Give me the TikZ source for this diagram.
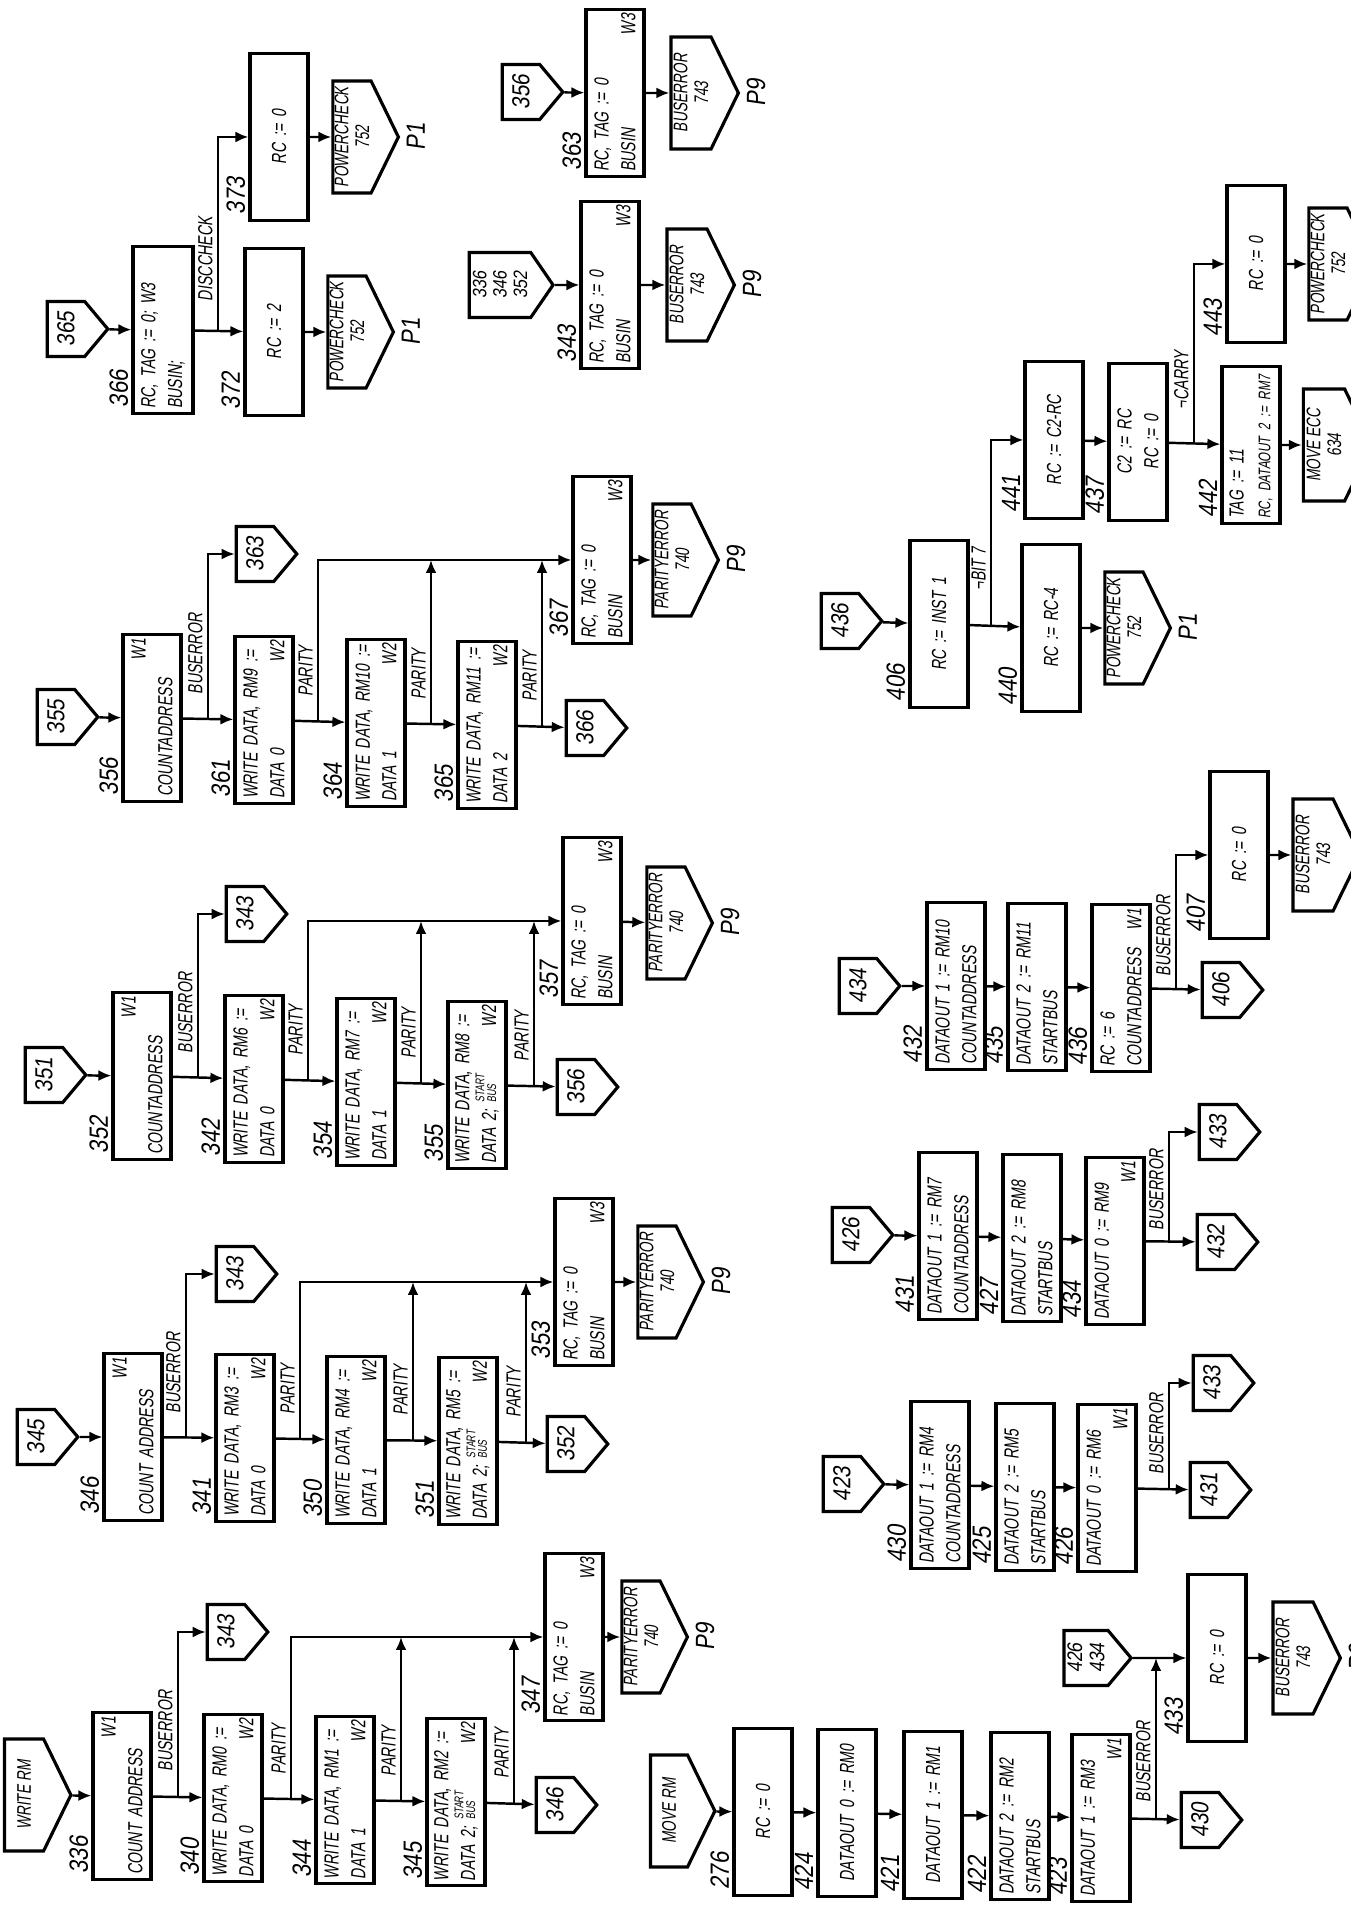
\documentclass[tikz,border=0pt]{standalone}
\usepackage{fontspec}
\newfontfamily\handfont{Liberation Sans}[FakeStretch=0.70,FakeSlant=0.14]
\newfontfamily\digitfont{Liberation Sans}[FakeStretch=0.85,FakeSlant=0.14]
\usetikzlibrary{arrows.meta,shapes.symbols}
\newcommand{\startbus}{{\fontsize{3.6}{3.8}\selectfont\renewcommand{\arraystretch}{0.7}\begin{tabular}[b]{@{}l@{}}START\\BUS\end{tabular}}}

\begin{document}
\begin{tikzpicture}[>={Latex[length=1.3mm,width=1.1mm]},line width=0.7pt,
  box/.style={draw,line width=0.9pt,minimum width=1.65cm,minimum height=0.58cm,
    text width=1.58cm,inner xsep=1.2pt,inner ysep=1pt,align=left,
    font=\handfont\fontsize{5.8}{7.6}\selectfont},
  cbox/.style={box,align=center},
  kbox/.style={box,minimum width=1.55cm,text width=1.48cm},
  conn/.style={signal,signal to=south,draw,line width=0.9pt,inner sep=1pt,
    minimum width=0.55cm,minimum height=0.55cm,signal pointer angle=100,
    align=center,font=\digitfont\fontsize{7}{7.4}\selectfont},
  wconn/.style={conn,minimum width=1.12cm,minimum height=0.6cm,inner sep=0.5pt,
    signal pointer angle=128,font=\handfont\fontsize{5.6}{5.9}\selectfont},
  refno/.style={anchor=south west,inner sep=0.6pt,xshift=0.4mm,
    font=\digitfont\fontsize{7.5}{8}\selectfont},
  lbl/.style={anchor=south,inner sep=1.2pt,font=\handfont\fontsize{5.8}{7}\selectfont},
  plbl/.style={anchor=north,inner sep=1.5pt,font=\digitfont\fontsize{7.5}{8}\selectfont}]
  \fill[white] (0,0) rectangle (13.5,19.07);
  \useasboundingbox (0,0) rectangle (13.5,19.07);
  \begin{scope}[rotate=90,transform shape]
  \node[wconn,minimum height=0.57cm] (cWR) at (1.12,-0.24) {WRITE RM};
  \node[box] (b336) at (1.11,-1.22) {\hspace*{\fill}W1\\COUNT ADDRESS};
  \node[box] (b340) at (1.09,-2.33) {WRITE DATA, RM0~:=\\DATA 0\hspace*{\fill}W2};
  \node[box] (b344) at (1.07,-3.45) {WRITE DATA, RM1~:=\\DATA 1\hspace*{\fill}W2};
  \node[box] (b345) at (1.05,-4.56) {WRITE DATA, RM2~:=\\DATA 2; \startbus\hspace*{\fill}W2};
  \node[conn] (c346) at (1.02,-5.55) {346};
  \node[conn] (c343a) at (2.75,-2.26) {343};
  \node[box] (b347) at (2.70,-5.74) {RC, TAG := 0\\BUSIN\hspace*{\fill}W3};
  \node[wconn] (c740a) at (2.70,-6.41) {PARITYERROR\\740};

  \node[conn] (c345) at (4.70,-0.36) {345};
  \node[box] (b346) at (4.70,-1.33) {\hspace*{\fill}W1\\COUNT ADDRESS};
  \node[box] (b341) at (4.69,-2.45) {WRITE DATA, RM3~:=\\DATA 0\hspace*{\fill}W2};
  \node[box] (b350) at (4.67,-3.56) {WRITE DATA, RM4~:=\\DATA 1\hspace*{\fill}W2};
  \node[box] (b351) at (4.66,-4.68) {WRITE DATA, RM5~:=\\DATA 2; \startbus\hspace*{\fill}W2};
  \node[conn] (c352) at (4.63,-5.66) {352};
  \node[conn] (c343b) at (6.33,-2.35) {343};
  \node[box] (b353) at (6.25,-5.84) {RC, TAG := 0\\BUSIN\hspace*{\fill}W3};
  \node[wconn] (c740b) at (6.25,-6.57) {PARITYERROR\\740};

  \node[conn] (c351) at (8.32,-0.44) {351};
  \node[box] (b352) at (8.31,-1.42) {\hspace*{\fill}W1\\COUNTADDRESS};
  \node[box] (b342) at (8.28,-2.54) {WRITE DATA, RM6~:=\\DATA 0\hspace*{\fill}W2};
  \node[box] (b354) at (8.25,-3.66) {WRITE DATA, RM7~:=\\DATA 1\hspace*{\fill}W2};
  \node[box] (b355) at (8.22,-4.77) {WRITE DATA, RM8~:=\\DATA 2; \startbus\hspace*{\fill}W2};
  \node[conn] (c356) at (8.20,-5.76) {356};
  \node[conn] (c343c) at (9.93,-2.45) {343};
  \node[box] (b357) at (9.86,-5.92) {RC, TAG := 0\\BUSIN\hspace*{\fill}W3};
  \node[wconn] (c740c) at (9.84,-6.66) {PARITYERROR\\740};

  \node[conn] (c355) at (11.90,-0.56) {355};
  \node[box] (b356) at (11.89,-1.52) {\hspace*{\fill}W1\\COUNTADDRESS};
  \node[box] (b361) at (11.87,-2.64) {WRITE DATA, RM9~:=\\DATA 0\hspace*{\fill}W2};
  \node[box] (b364) at (11.84,-3.76) {WRITE DATA, RM10~:=\\DATA 1\hspace*{\fill}W2};
  \node[box] (b365) at (11.82,-4.87) {WRITE DATA, RM11~:=\\DATA 2\hspace*{\fill}W2};
  \node[conn] (c366) at (11.79,-5.85) {366};
  \node[conn] (c363) at (13.53,-2.55) {363};
  \node[box] (b367) at (13.47,-6.02) {RC, TAG := 0\\BUSIN\hspace*{\fill}W3};
  \node[wconn] (c740d) at (13.47,-6.72) {PARITYERROR\\740};

  \node[conn] (c365) at (15.78,-0.66) {365};
  \node[box,minimum height=0.6cm] (b366) at (15.77,-1.63) {RC, TAG := 0; W3\\BUSIN;};
  \node[cbox] (b372) at (15.75,-2.74) {RC := 2};
  \node[cbox] (b373) at (17.70,-2.79) {RC := 0};
  \node[wconn] (c752a) at (15.75,-3.47) {POWERCHECK\\752};
  \node[wconn] (c752b) at (17.70,-3.52) {POWERCHECK\\752};

  \node[conn,minimum width=0.65cm,signal pointer angle=111,font=\digitfont\fontsize{5.5}{5.8}\selectfont] (c336m) at (16.22,-5.00) {336\\346\\352};
  \node[box] (b343) at (16.22,-6.10) {RC, TAG := 0\\BUSIN\hspace*{\fill}W3};
  \node[wconn] (c743a) at (16.22,-6.87) {BUSERROR\\743};
  \node[conn] (c356m) at (18.15,-5.21) {356};
  \node[box] (b363) at (18.14,-6.15) {RC, TAG := 0\\BUSIN\hspace*{\fill}W3};
  \node[wconn] (c743b) at (18.14,-6.91) {BUSERROR\\743};

  \node[wconn,minimum height=0.54cm] (cMR) at (0.96,-6.69) {MOVE RM};
  \node[cbox] (b276) at (0.95,-7.63) {RC := 0};
  \node[cbox] (b424) at (0.94,-8.47) {DATAOUT 0 := RM0};
  \node[cbox] (b421) at (0.92,-9.33) {DATAOUT 1 := RM1};
  \node[box] (b422) at (0.91,-10.20) {DATAOUT 2 := RM2\\STARTBUS};
  \node[box] (b423) at (0.89,-11.01) {DATAOUT 1 := RM3\\\hspace*{\fill}W1};
  \node[conn] (c430) at (0.87,-12.00) {430};
  \node[conn,font=\digitfont\fontsize{6}{6.3}\selectfont] (c426m) at (2.49,-10.86) {426\\434};
  \node[cbox] (b433) at (2.49,-12.17) {RC := 0};
  \node[wconn] (c743c) at (2.49,-12.93) {BUSERROR\\743};

  \node[conn] (c423) at (4.23,-8.42) {423};
  \node[box] (b430) at (4.22,-9.40) {DATAOUT 1 := RM4\\COUNTADDRESS};
  \node[box] (b425) at (4.20,-10.25) {DATAOUT 2 := RM5\\STARTBUS};
  \node[box] (b426) at (4.19,-11.07) {DATAOUT 0 := RM6\\\hspace*{\fill}W1};
  \node[conn] (c431) at (4.17,-12.09) {431};
  \node[conn] (c433a) at (5.24,-12.12) {433};

  \node[conn] (c426) at (6.72,-8.51) {426};
  \node[box] (b431) at (6.71,-9.48) {DATAOUT 1 := RM7\\COUNTADDRESS};
  \node[box] (b427) at (6.69,-10.32) {DATAOUT 2 := RM8\\STARTBUS};
  \node[box] (b434) at (6.66,-11.15) {DATAOUT 0 := RM9\\\hspace*{\fill}W1};
  \node[conn] (c432) at (6.65,-12.16) {432};
  \node[conn] (c433b) at (7.75,-12.18) {433};

  \node[conn] (c434) at (9.21,-8.58) {434};
  \node[box] (b432) at (9.21,-9.56) {DATAOUT 1 := RM10\\COUNTADDRESS};
  \node[box] (b435) at (9.20,-10.37) {DATAOUT 2 := RM11\\STARTBUS};
  \node[box] (b436) at (9.19,-11.21) {RC := 6\\COUNTADDRESS\hspace*{\fill}W1};
  \node[conn] (c406) at (9.17,-12.21) {406};
  \node[cbox] (b407) at (10.52,-12.39) {RC := 0};
  \node[wconn] (c743d) at (10.52,-13.13) {BUSERROR\\743};

  \node[conn] (c436) at (12.86,-8.40) {436};
  \node[cbox] (b406) at (12.83,-9.39) {RC := INST 1};
  \node[cbox] (b440) at (12.79,-10.51) {RC := RC-4};
  \node[wconn] (c752c) at (12.79,-11.24) {POWERCHECK\\752};
  \node[kbox,align=center] (b441) at (14.67,-10.54) {RC := C2-RC};
  \node[kbox,align=center] (b437) at (14.65,-11.38) {C2 := RC\\RC := 0};
  \node[kbox] (b442) at (14.62,-12.51) {TAG := 11\\\mbox{\fontsize{4.8}{6}\selectfont RC, DATAOUT 2 := RM7}};
  \node[kbox,align=center] (b443) at (16.43,-12.56) {RC := 0};
  \node[wconn] (c634) at (14.62,-13.24) {MOVE ECC\\634};
  \node[wconn] (c752d) at (16.43,-13.28) {POWERCHECK\\752};

  \node[refno] (r336) at (b336.north west) {336};
  \node[refno] (r340) at (b340.north west) {340};
  \node[refno] (r344) at (b344.north west) {344};
  \node[refno] (r345) at (b345.north west) {345};
  \node[refno] (r347) at (b347.north west) {347};
  \node[refno] (r346) at (b346.north west) {346};
  \node[refno] (r341) at (b341.north west) {341};
  \node[refno] (r350) at (b350.north west) {350};
  \node[refno] (r351) at (b351.north west) {351};
  \node[refno] (r353) at (b353.north west) {353};
  \node[refno] (r352) at (b352.north west) {352};
  \node[refno] (r342) at (b342.north west) {342};
  \node[refno] (r354) at (b354.north west) {354};
  \node[refno] (r355) at (b355.north west) {355};
  \node[refno] (r357) at (b357.north west) {357};
  \node[refno] (r356) at (b356.north west) {356};
  \node[refno] (r361) at (b361.north west) {361};
  \node[refno] (r364) at (b364.north west) {364};
  \node[refno] (r365) at (b365.north west) {365};
  \node[refno] (r367) at (b367.north west) {367};
  \node[refno] (r366) at (b366.north west) {366};
  \node[refno] (r372) at (b372.north west) {372};
  \node[refno] (r373) at (b373.north west) {373};
  \node[refno] (r343) at (b343.north west) {343};
  \node[refno] (r363) at (b363.north west) {363};
  \node[refno] (r276) at (b276.north west) {276};
  \node[refno] (r424) at (b424.north west) {424};
  \node[refno] (r421) at (b421.north west) {421};
  \node[refno] (r422) at (b422.north west) {422};
  \node[refno] (r423) at (b423.north west) {423};
  \node[refno] (r433) at (b433.north west) {433};
  \node[refno] (r430) at (b430.north west) {430};
  \node[refno] (r425) at (b425.north west) {425};
  \node[refno] (r426) at (b426.north west) {426};
  \node[refno] (r431) at (b431.north west) {431};
  \node[refno] (r427) at (b427.north west) {427};
  \node[refno] (r434) at (b434.north west) {434};
  \node[refno] (r432) at (b432.north west) {432};
  \node[refno] (r435) at (b435.north west) {435};
  \node[refno] (r436) at (b436.north west) {436};
  \node[refno] (r407) at (b407.north west) {407};
  \node[refno] (r406) at (b406.north west) {406};
  \node[refno] (r440) at (b440.north west) {440};
  \node[refno] (r441) at (b441.north west) {441};
  \node[refno] (r437) at (b437.north west) {437};
  \node[refno] (r442) at (b442.north west) {442};
  \node[refno] (r443) at (b443.north west) {443};

  \node[plbl] (q740a) at (c740a.south) {P9};
  \node[plbl] (q740b) at (c740b.south) {P9};
  \node[plbl] (q740c) at (c740c.south) {P9};
  \node[plbl] (q740d) at (c740d.south) {P9};
  \node[plbl] (q752a) at (c752a.south) {P1};
  \node[plbl] (q752b) at (c752b.south) {P1};
  \node[plbl] (q743a) at (c743a.south) {P9};
  \node[plbl] (q743b) at (c743b.south) {P9};
  \node[plbl] (q743c) at (c743c.south) {P9};
  \node[plbl] (q752c) at (c752c.south) {P1};

  \coordinate (jA) at (1.10,-1.78);
  \coordinate (pA1) at (1.08,-2.91);
  \coordinate (pA2) at (1.06,-4.01);
  \coordinate (pA3) at (1.035,-5.14);
  \coordinate (jB) at (4.695,-1.86);
  \coordinate (pB1) at (4.68,-3.00);
  \coordinate (pB2) at (4.665,-4.13);
  \coordinate (pB3) at (4.645,-5.26);
  \coordinate (jC) at (8.295,-1.98);
  \coordinate (pC1) at (8.265,-3.08);
  \coordinate (pC2) at (8.235,-4.21);
  \coordinate (pC3) at (8.21,-5.34);
  \coordinate (jD) at (11.88,-2.08);
  \coordinate (pD1) at (11.855,-3.18);
  \coordinate (pD2) at (11.83,-4.31);
  \coordinate (pD3) at (11.805,-5.42);
  \coordinate (jE) at (15.76,-2.18);
  \coordinate (jG) at (0.88,-11.56);
  \coordinate (jH) at (4.18,-11.69);
  \coordinate (jI) at (6.655,-11.69);
  \coordinate (jJ) at (9.18,-11.76);
  \coordinate (jK1) at (12.81,-9.91);
  \coordinate (jK2) at (14.635,-11.94);

  \node[lbl] (tA0) at (1.76,-1.78) {BUSERROR};
  \node[lbl] (tA1) at (1.58,-2.91) {PARITY};
  \node[lbl] (tA2) at (1.56,-4.01) {PARITY};
  \node[lbl] (tA3) at (1.54,-5.14) {PARITY};
  \node[lbl] (tB0) at (5.34,-1.86) {BUSERROR};
  \node[lbl] (tB1) at (5.18,-3.00) {PARITY};
  \node[lbl] (tB2) at (5.17,-4.13) {PARITY};
  \node[lbl] (tB3) at (5.15,-5.26) {PARITY};
  \node[lbl] (tC0) at (8.94,-1.98) {BUSERROR};
  \node[lbl] (tC1) at (8.77,-3.08) {PARITY};
  \node[lbl] (tC2) at (8.74,-4.21) {PARITY};
  \node[lbl] (tC3) at (8.71,-5.34) {PARITY};
  \node[lbl] (tD0) at (12.53,-2.08) {BUSERROR};
  \node[lbl] (tD1) at (12.36,-3.18) {PARITY};
  \node[lbl] (tD2) at (12.33,-4.31) {PARITY};
  \node[lbl] (tD3) at (12.31,-5.42) {PARITY};
  \node[lbl] (tE) at (16.48,-2.18) {DISCCHECK};
  \node[lbl] (tG) at (1.45,-11.56) {BUSERROR};
  \node[lbl] (tH) at (4.73,-11.69) {BUSERROR};
  \node[lbl] (tI) at (7.17,-11.69) {BUSERROR};
  \node[lbl] (tJ) at (9.71,-11.76) {BUSERROR};
  \node[lbl] (tK1) at (13.38,-9.91) {¬BIT 7};
  \node[lbl] (tK2) at (15.27,-11.94) {¬CARRY};

  \draw[->] (cWR) -- (b336);
  \draw[->] (b336) -- (b340);
  \draw[->] (b340) -- (b344);
  \draw[->] (b344) -- (b345);
  \draw[->] (b345) -- (c346);
  \draw[->] (jA) -| (c343a);
  \draw[->] (pA1) -| (b347);
  \draw[->] (pA2) -- (pA2 -| b347);
  \draw[->] (pA3) -- (pA3 -| b347);
  \draw[->] (b347) -- (c740a);

  \draw[->] (c345) -- (b346);
  \draw[->] (b346) -- (b341);
  \draw[->] (b341) -- (b350);
  \draw[->] (b350) -- (b351);
  \draw[->] (b351) -- (c352);
  \draw[->] (jB) -| (c343b);
  \draw[->] (pB1) -| (b353);
  \draw[->] (pB2) -- (pB2 -| b353);
  \draw[->] (pB3) -- (pB3 -| b353);
  \draw[->] (b353) -- (c740b);

  \draw[->] (c351) -- (b352);
  \draw[->] (b352) -- (b342);
  \draw[->] (b342) -- (b354);
  \draw[->] (b354) -- (b355);
  \draw[->] (b355) -- (c356);
  \draw[->] (jC) -| (c343c);
  \draw[->] (pC1) -| (b357);
  \draw[->] (pC2) -- (pC2 -| b357);
  \draw[->] (pC3) -- (pC3 -| b357);
  \draw[->] (b357) -- (c740c);

  \draw[->] (c355) -- (b356);
  \draw[->] (b356) -- (b361);
  \draw[->] (b361) -- (b364);
  \draw[->] (b364) -- (b365);
  \draw[->] (b365) -- (c366);
  \draw[->] (jD) -| (c363);
  \draw[->] (pD1) -| (b367);
  \draw[->] (pD2) -- (pD2 -| b367);
  \draw[->] (pD3) -- (pD3 -| b367);
  \draw[->] (b367) -- (c740d);

  \draw[->] (c365) -- (b366);
  \draw[->] (b366) -- (b372);
  \draw[->] (jE) -| (b373);
  \draw[->] (b372) -- (c752a);
  \draw[->] (b373) -- (c752b);

  \draw[->] (c336m) -- (b343);
  \draw[->] (b343) -- (c743a);
  \draw[->] (c356m) -- (b363);
  \draw[->] (b363) -- (c743b);

  \draw[->] (cMR) -- (b276);
  \draw[->] (b276) -- (b424);
  \draw[->] (b424) -- (b421);
  \draw[->] (b421) -- (b422);
  \draw[->] (b422) -- (b423);
  \draw[->] (b423) -- (c430);
  \draw[->] (jG) -- (jG -| b433);
  \draw[->] (c426m) -- (b433);
  \draw[->] (b433) -- (c743c);

  \draw[->] (c423) -- (b430);
  \draw[->] (b430) -- (b425);
  \draw[->] (b425) -- (b426);
  \draw[->] (b426) -- (c431);
  \draw[->] (jH) -| (c433a);

  \draw[->] (c426) -- (b431);
  \draw[->] (b431) -- (b427);
  \draw[->] (b427) -- (b434);
  \draw[->] (b434) -- (c432);
  \draw[->] (jI) -| (c433b);

  \draw[->] (c434) -- (b432);
  \draw[->] (b432) -- (b435);
  \draw[->] (b435) -- (b436);
  \draw[->] (b436) -- (c406);
  \draw[->] (jJ) -| (b407);
  \draw[->] (b407) -- (c743d);

  \draw[->] (c436) -- (b406);
  \draw[->] (b406) -- (b440);
  \draw[->] (b440) -- (c752c);
  \draw[->] (jK1) -| (b441);
  \draw[->] (b441) -- (b437);
  \draw[->] (b437) -- (b442);
  \draw[->] (jK2) -| (b443);
  \draw[->] (b442) -- (c634);
  \draw[->] (b443) -- (c752d);
  \end{scope}
\end{tikzpicture}
\end{document}
